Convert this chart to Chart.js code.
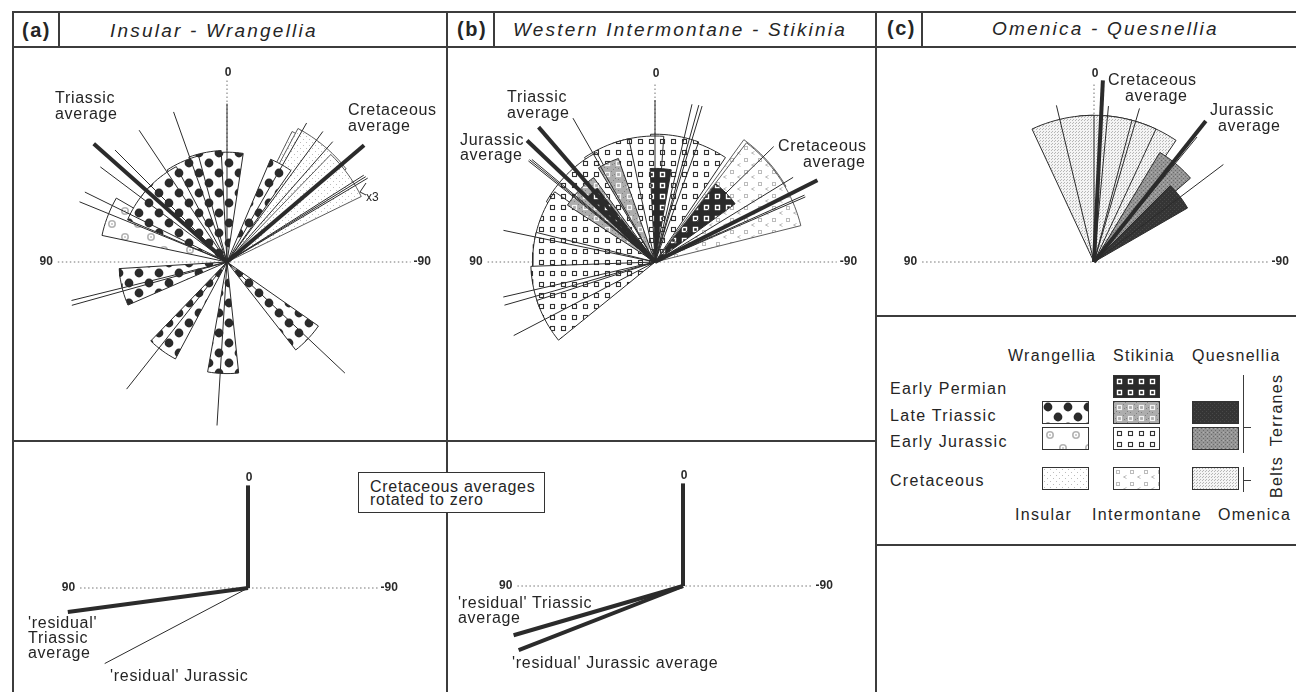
<!DOCTYPE html>
<html>
<head>
<meta charset="utf-8">
<title>Paleomagnetic rose diagrams</title>
<script src="https://cdn.jsdelivr.net/npm/chart.js@4.4.1/dist/chart.umd.min.js"></script>
<style>
  html, body { margin: 0; padding: 0; background: #fff; }
  body { position: relative; width: 1296px; height: 692px; overflow: hidden;
         font-family: "Liberation Sans", Arial, Helvetica, sans-serif; color: #252525; }
  canvas { position: absolute; }
  .rule { position: absolute; background: #3c3c3c; }
  .t { position: absolute; white-space: nowrap; line-height: 1; font-size: 16px;
       letter-spacing: 0.7px; transform: translateY(-50%); }
  .title { font-size: 19px; font-style: italic; letter-spacing: 2.2px; }
  .tag { font-size: 20px; font-weight: bold; letter-spacing: 1.5px; }
  .leg { letter-spacing: 1.3px; }
  .sw { position: absolute; width: 45px; height: 21px; border: 1px solid #333; }
  .box { position: absolute; left: 358px; top: 472px; width: 185px; height: 39px;
         border: 1px solid #333; background: #fff; }
  .rot { transform: translate(-50%, -50%) rotate(-90deg); }
  svg.mark { position: absolute; left: 355px; top: 180px; }
</style>
</head>
<body>
<canvas id="rose-a" width="432" height="392" style="left:14px;top:48px"></canvas>
<canvas id="rose-b" width="427" height="392" style="left:448px;top:48px"></canvas>
<canvas id="rose-c" width="419" height="267" style="left:877px;top:48px"></canvas>
<canvas id="resid-a" width="432" height="250" style="left:14px;top:442px"></canvas>
<canvas id="resid-b" width="427" height="250" style="left:448px;top:442px"></canvas>
<svg class="mark" width="16" height="20"><polyline points="11,3 5,12 11,15" fill="none" stroke="#2b2b2b" stroke-width="1"/></svg>
<script>
// angles in degrees, 0 = up, +90 = left (west), -90 = right; lengths: 1 = axis length
// wedges are [from, to, length], lines are [angle, length]

// (a) Insular - Wrangellia
const wrangelliaTriassic = [[-8.5, 8, 0.61], [3, 20, 0.62], [15, 33, 0.61], [28, 50, 0.6], [45, 67, 0.6],
  [-23, -35, 0.62], [93.5, 113.5, 0.6], [136, 152, 0.61], [170, 186, 0.62], [-125, -142, 0.62]];
const wrangelliaJurassic = [[60, 78, 0.71]];
const insularCretaceous = [[-26.5, -46, 0.81], [-28, -52, 0.84], [-44, -64, 0.83]];
const insularLines = [[0, 0.88], [19.6, 0.885], [33.7, 0.88], [45, 0.88], [53.1, 0.88], [63.8, 0.88],
  [67.8, 0.885], [103.9, 0.89], [105.6, 0.895], [141.7, 0.9], [176.5, 0.91], [-133.3, 0.9],
  [-29.8, 0.89], [-36.3, 0.9], [-41.3, 0.89], [-57.6, 0.9], [-58.4, 0.905], [-59.2, 0.91]];
const insularAverages = [[48.4, 0.99], [-49.6, 1.0]];
const insularAxes = [0.94, 1.02, 1.01];

// (b) Western Intermontane - Stikinia
const stikiniaJurassic = [[-34, -12, 0.7], [-20, 2, 0.71], [-4, 20, 0.7], [12, 34, 0.7], [28, 61, 0.69],
  [55, 80, 0.68], [76, 97, 0.68], [92, 112, 0.69], [108, 129, 0.69]];
const intermontaneCretaceous = [[-36, -60, 0.84], [-37.5, -76, 0.835]];
const stikiniaTriassic = [[19.5, 31, 0.61], [36, 57, 0.58]];
const stikiniaPermian = [[-10, 3, 0.52], [38, 47, 0.52], [-38, -54, 0.55]];
const intermontaneLines = [[0, 0.9], [-13.2, 0.9], [-15.6, 0.905], [-16.8, 0.905], [29.7, 0.92],
  [50.2, 0.89], [50.8, 0.9], [51.4, 0.9], [78.2, 0.86], [103, 0.865], [106, 0.87], [117.5, 0.885],
  [-45.8, 0.92], [-58.5, 0.9], [-65.9, 0.91], [-66.6, 0.91]];
const intermontaneAverages = [[40.8, 0.99], [46.5, 0.98], [-63.3, 1.01]];
const intermontaneAxes = [0.93, 1.01, 1.0];

// (c) Omenica - Quesnellia
const omenicaCretaceous = [[-34, -14, 0.815], [-25, -4, 0.815], [-15, 6, 0.815], [0, 25, 0.815]];
const quesnelliaJurassic = [[-31, -49, 0.71]];
const quesnelliaTriassic = [[-45, -60, 0.6]];
const omenicaLines = [[13.5, 0.895], [-5.3, 0.87], [-16.5, 0.89], [-39.5, 0.9], [-53, 0.9]];
const omenicaAverages = [[-2.8, 1.01], [-38.4, 1.0]];
const omenicaAxes = [0.955, 0.97, 1.0];

// Cretaceous averages rotated to zero
const insularResidualAverages = [[0, 0.57], [97.6, 1.01]];
const insularResidualLines = [[117.8, 0.9]];
const insularResidualAxes = [0.933, 0.72, 0.57];
const intermontaneResidualAverages = [[0, 0.57], [106.2, 0.98], [111.3, 0.98]];
const intermontaneResidualAxes = [0.92, 0.72, 0.57];

const INK = '#2b2b2b';
const AXIS = '#737373';
const PX_PER_UNIT = 180;
const DEG = Math.PI / 180;

// ---------- fill patterns ----------
function tile(w, h, paint) {
  const c = document.createElement('canvas');
  c.width = w;
  c.height = h;
  paint(c.getContext('2d'), w, h);
  return c;
}
function squareMarks(g, color, width) {
  g.strokeStyle = color;
  g.lineWidth = width;
  g.strokeRect(3.5, 3.5, 4, 4);
}
const TILES = {
  wrangelliaTriassic: tile(20, 20, g => {
    g.fillStyle = '#fff'; g.fillRect(0, 0, 20, 20);
    g.fillStyle = INK;
    [[5, 5], [15, 15]].forEach(([x, y]) => { g.beginPath(); g.arc(x, y, 4.4, 0, Math.PI * 2); g.fill(); });
  }),
  wrangelliaJurassic: tile(26, 26, g => {
    g.fillStyle = '#fff'; g.fillRect(0, 0, 26, 26);
    g.strokeStyle = '#b4b4b4'; g.lineWidth = 1.6; g.fillStyle = '#cfcfcf';
    [[7, 7], [20, 20]].forEach(([x, y]) => {
      g.beginPath(); g.arc(x, y, 3.2, 0, Math.PI * 2); g.stroke();
      g.fillRect(x - 1, y - 1, 2, 2);
    });
  }),
  insularCretaceous: tile(6, 6, g => {
    g.fillStyle = '#fff'; g.fillRect(0, 0, 6, 6);
    g.fillStyle = '#bdbdbd'; g.fillRect(1, 1, 1, 1); g.fillRect(4, 4, 1, 1);
  }),
  stikiniaPermian: tile(11, 11, g => {
    g.fillStyle = '#2a2a2a'; g.fillRect(0, 0, 11, 11);
    squareMarks(g, '#fff', 1.4);
  }),
  stikiniaTriassic: tile(11, 11, g => {
    g.fillStyle = '#adadad'; g.fillRect(0, 0, 11, 11);
    g.fillStyle = '#808080';
    [[0, 0], [2, 9], [9, 2], [5, 10], [10, 6], [1, 5]].forEach(([x, y]) => g.fillRect(x, y, 1, 1));
    squareMarks(g, '#f4f4f4', 1.2);
  }),
  stikiniaJurassic: tile(11, 11, g => {
    g.fillStyle = '#fff'; g.fillRect(0, 0, 11, 11);
    squareMarks(g, '#333', 1.1);
  }),
  intermontaneCretaceous: tile(14, 12, g => {
    g.fillStyle = '#fff'; g.fillRect(0, 0, 14, 12);
    g.strokeStyle = '#bcbcbc'; g.lineWidth = 1;
    g.strokeRect(2.5, 2.5, 3, 3);
    g.beginPath(); g.moveTo(12.5, 7.5); g.lineTo(9.5, 9); g.lineTo(12.5, 10.5); g.stroke();
  }),
  quesnelliaTriassic: tile(4, 4, g => {
    g.fillStyle = '#353535'; g.fillRect(0, 0, 4, 4);
    g.fillStyle = '#484848'; g.fillRect(1, 1, 1, 1); g.fillRect(3, 3, 1, 1);
  }),
  quesnelliaJurassic: tile(4, 4, g => {
    g.fillStyle = '#959595'; g.fillRect(0, 0, 4, 4);
    g.fillStyle = '#6c6c6c'; g.fillRect(0, 0, 1, 1); g.fillRect(2, 2, 1, 1);
    g.fillStyle = '#b0b0b0'; g.fillRect(2, 0, 1, 1);
  }),
  omenicaCretaceous: tile(3, 3, g => {
    g.fillStyle = '#f4f4f4'; g.fillRect(0, 0, 3, 3);
    g.fillStyle = '#b6b6b6'; g.fillRect(0, 0, 1, 1); g.fillRect(1, 2, 1, 1);
  })
};
const PAT = {};
Object.keys(TILES).forEach(k => {
  PAT[k] = TILES[k].getContext('2d').createPattern(TILES[k], 'repeat');
});

// ---------- geometry helpers ----------
function polar(deg, r) {
  return { x: -r * Math.sin(deg * DEG), y: r * Math.cos(deg * DEG) };
}
function wedgePoints(from, to, r) {
  const a = Math.min(from, to), b = Math.max(from, to);
  const n = Math.max(2, Math.ceil((b - a) / 2));
  const pts = [{ x: 0, y: 0 }];
  for (let i = 0; i <= n; i++) pts.push(polar(a + (b - a) * i / n, r));
  pts.push({ x: 0, y: 0 });
  return pts;
}
function lineDataset(data, color, width, dash) {
  return { data, borderColor: color, borderWidth: width, borderDash: dash || [],
           borderCapStyle: 'butt', fill: false, pointRadius: 0 };
}

// "0", "90", "-90" at the ends of the dotted axes
const roseTicks = {
  id: 'roseTicks',
  afterDatasetsDraw(chart, args, opts) {
    const { ctx, scales: { x, y } } = chart;
    const cx = x.getPixelForValue(0), cy = y.getPixelForValue(0);
    ctx.save();
    ctx.fillStyle = INK;
    ctx.font = 'bold 12px "Liberation Sans", Arial, sans-serif';
    ctx.textBaseline = 'middle';
    ctx.textAlign = 'center';
    ctx.fillText('0', cx + 1, y.getPixelForValue(opts.up) - 8);
    ctx.textAlign = 'right';
    ctx.fillText('90', x.getPixelForValue(-opts.left) - 5, cy);
    ctx.textAlign = 'left';
    ctx.fillText('-90', x.getPixelForValue(opts.right) + 3, cy);
    ctx.restore();
  }
};

function roseChart(canvasId, center, axes, layers, lines) {
  const canvas = document.getElementById(canvasId);
  const w = canvas.width, h = canvas.height;
  const [cx, cy] = center;
  const [axLeft, axRight, axUp] = axes;
  const datasets = [];

  datasets.push(lineDataset([{ x: -axLeft, y: 0 }, { x: axRight, y: 0 }], AXIS, 1, [1.5, 2.5]));
  datasets.push(lineDataset([{ x: 0, y: 0 }, { x: 0, y: axUp }], AXIS, 1, [1.5, 2.5]));

  layers.forEach(layer => layer.wedges.forEach(([a, b, r]) => datasets.push({
    data: wedgePoints(a, b, r),
    fill: 'shape',
    backgroundColor: layer.fill,
    borderColor: layer.stroke || INK,
    borderWidth: layer.width || 1,
    pointRadius: 0
  })));

  lines.forEach(group => group.items.forEach(([deg, len]) =>
    datasets.push(lineDataset([{ x: 0, y: 0 }, polar(deg, len)], INK, group.width))));

  // lower order is painted last, so the first pushed ends up at the bottom
  datasets.forEach((ds, i) => { ds.order = datasets.length - i; });

  return new Chart(canvas, {
    type: 'line',
    data: { datasets },
    options: {
      responsive: false,
      animation: false,
      devicePixelRatio: 1,
      events: [],
      layout: { padding: 0 },
      elements: { line: { tension: 0, borderJoinStyle: 'miter' }, point: { radius: 0 } },
      scales: {
        x: { type: 'linear', display: false, min: -cx / PX_PER_UNIT, max: (w - cx) / PX_PER_UNIT },
        y: { type: 'linear', display: false, min: -(h - cy) / PX_PER_UNIT, max: cy / PX_PER_UNIT }
      },
      plugins: {
        legend: { display: false },
        tooltip: { enabled: false },
        roseTicks: { left: axLeft, right: axRight, up: axUp }
      }
    },
    plugins: [roseTicks]
  });
}

roseChart('rose-a', [213, 214], insularAxes, [
  { wedges: insularCretaceous, fill: PAT.insularCretaceous, stroke: '#4a4a4a', width: 0.9 },
  { wedges: wrangelliaJurassic, fill: PAT.wrangelliaJurassic },
  { wedges: wrangelliaTriassic, fill: PAT.wrangelliaTriassic }
], [
  { items: insularLines, width: 1 },
  { items: insularAverages, width: 4 }
]);

roseChart('rose-b', [207, 214], intermontaneAxes, [
  { wedges: stikiniaJurassic, fill: PAT.stikiniaJurassic },
  { wedges: intermontaneCretaceous, fill: PAT.intermontaneCretaceous, stroke: '#4a4a4a', width: 0.9 },
  { wedges: stikiniaTriassic, fill: PAT.stikiniaTriassic },
  { wedges: stikiniaPermian, fill: PAT.stikiniaPermian }
], [
  { items: intermontaneLines, width: 1 },
  { items: intermontaneAverages, width: 4 }
]);

roseChart('rose-c', [217, 214], omenicaAxes, [
  { wedges: omenicaCretaceous, fill: PAT.omenicaCretaceous },
  { wedges: quesnelliaJurassic, fill: PAT.quesnelliaJurassic },
  { wedges: quesnelliaTriassic, fill: PAT.quesnelliaTriassic }
], [
  { items: omenicaLines, width: 1 },
  { items: omenicaAverages, width: 4 }
]);

roseChart('resid-a', [234, 146], insularResidualAxes, [], [
  { items: insularResidualLines, width: 1 },
  { items: insularResidualAverages, width: 4 }
]);

roseChart('resid-b', [235, 144], intermontaneResidualAxes, [], [
  { items: intermontaneResidualAverages, width: 4 }
]);

// ---------- frame, titles, labels, legend ----------
function add(el) { document.body.appendChild(el); return el; }
function rule(x, y, w, h) {
  const d = document.createElement('div');
  d.className = 'rule';
  Object.assign(d.style, { left: x + 'px', top: y + 'px', width: w + 'px', height: h + 'px' });
  add(d);
}
function text(str, x, y, cls) {
  const d = document.createElement('div');
  d.className = 't' + (cls ? ' ' + cls : '');
  d.textContent = str;
  d.style.left = x + 'px';
  d.style.top = y + 'px';
  return add(d);
}

[[12, 11, 1284, 1.5], [12, 46, 1284, 1.5], [12, 11, 1.5, 681], [58, 11, 1.5, 35],
 [446, 11, 1.5, 681], [493, 11, 1.5, 35], [875, 11, 1.5, 681], [921, 11, 1.5, 35],
 [12, 440, 863, 1.5], [875, 315, 421, 1.5], [875, 544, 421, 1.5]].forEach(r => rule(...r));

text('(a)', 22, 30, 'tag');
text('Insular - Wrangellia', 110, 30, 'title');
text('(b)', 457, 29, 'tag');
text('Western Intermontane - Stikinia', 513, 29, 'title');
text('(c)', 887, 28, 'tag');
text('Omenica - Quesnellia', 992, 28, 'title');

text('Triassic', 55, 98); text('average', 55, 114);
text('Cretaceous', 348, 110); text('average', 348, 126);
const x3 = text('x3', 366, 197); x3.style.fontSize = '12px'; x3.style.letterSpacing = '0';

text('Triassic', 507, 97); text('average', 507, 113);
text('Jurassic', 460, 140); text('average', 460, 155);
text('Cretaceous', 778, 146); text('average', 803, 162);

text('Cretaceous', 1108, 80); text('average', 1125, 96);
text('Jurassic', 1210, 110); text('average', 1218, 126);

text("'residual'", 28, 623); text('Triassic', 28, 638); text('average', 28, 653);
text("'residual' Jurassic", 110, 676);
text("'residual' Triassic", 458, 603); text('average', 458, 618);
text("'residual' Jurassic average", 512, 663);

const box = document.createElement('div'); box.className = 'box'; add(box);
text('Cretaceous averages', 370, 487); text('rotated to zero', 370, 500);

// legend
text('Wrangellia', 1008, 356, 'leg'); text('Stikinia', 1113, 356, 'leg'); text('Quesnellia', 1192, 356, 'leg');
text('Early Permian', 890, 389, 'leg'); text('Late Triassic', 890, 416, 'leg');
text('Early Jurassic', 890, 442, 'leg'); text('Cretaceous', 890, 481, 'leg');
text('Insular', 1015, 515, 'leg'); text('Intermontane', 1092, 515, 'leg'); text('Omenica', 1218, 515, 'leg');

const legendCols = [1042, 1113, 1192];
const legendRows = [375, 401, 427, 467];
const legendSwatches = [
  [0, 1, 'wrangelliaTriassic'], [0, 2, 'wrangelliaJurassic'], [0, 3, 'insularCretaceous'],
  [1, 0, 'stikiniaPermian'], [1, 1, 'stikiniaTriassic'], [1, 2, 'stikiniaJurassic'], [1, 3, 'intermontaneCretaceous'],
  [2, 1, 'quesnelliaTriassic'], [2, 2, 'quesnelliaJurassic'], [2, 3, 'omenicaCretaceous']
];
legendSwatches.forEach(([c, r, key]) => {
  const s = document.createElement('div');
  s.className = 'sw';
  s.style.left = legendCols[c] + 'px';
  s.style.top = legendRows[r] + 'px';
  s.style.backgroundImage = 'url(' + TILES[key].toDataURL() + ')';
  add(s);
});
rule(1243, 375, 1.2, 78); rule(1243, 427, 8, 1.2);
rule(1243, 467, 1.2, 25); rule(1243, 480, 8, 1.2);
text('Terranes', 1277, 410, 'leg rot');
text('Belts', 1277, 477, 'leg rot');
</script>
</body>
</html>
